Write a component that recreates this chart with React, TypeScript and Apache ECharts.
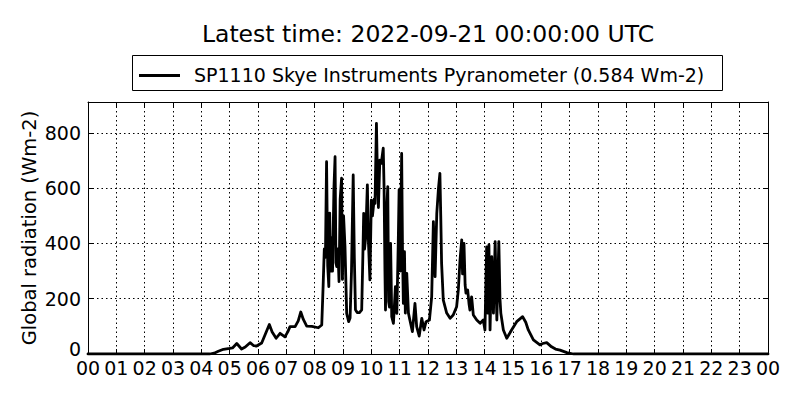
import React, { useEffect, useRef } from "react";
import * as echarts from "echarts";

const titleText = "Latest time: 2022-09-21 00:00:00 UTC";
const seriesName = "SP1110 Skye Instruments Pyranometer (0.584 Wm-2)";
const yAxisName = "Global radiation (Wm-2)";

const hours = [
  0, 4.3, 4.45, 4.6, 4.78, 5.0, 5.1, 5.25, 5.42, 5.55, 5.72, 5.85, 5.95, 6.13, 6.25, 6.4, 6.5, 6.64, 6.78, 6.95,
  7.05, 7.13, 7.31, 7.42, 7.51, 7.6, 7.72, 7.9, 8.13, 8.25, 8.3, 8.34, 8.38, 8.42, 8.46, 8.5, 8.53, 8.56, 8.6, 8.63,
  8.68, 8.72, 8.75, 8.78, 8.82, 8.86, 8.9, 8.95, 8.98, 9.02, 9.07, 9.13, 9.2, 9.25, 9.3, 9.36, 9.4, 9.44, 9.5, 9.58,
  9.66, 9.7, 9.73, 9.76, 9.8, 9.86, 9.9, 9.95, 10.0, 10.04, 10.1, 10.13, 10.18, 10.22, 10.25, 10.3, 10.35, 10.42, 10.45, 10.48,
  10.5, 10.54, 10.58, 10.61, 10.64, 10.68, 10.72, 10.78, 10.85, 10.9, 10.95, 10.98, 11.02, 11.07, 11.1, 11.13, 11.17, 11.2, 11.25, 11.31,
  11.36, 11.45, 11.54, 11.6, 11.69, 11.78, 11.86, 11.93, 12.05, 12.13, 12.19, 12.25, 12.31, 12.37, 12.42, 12.45, 12.48, 12.54, 12.66, 12.78,
  12.89, 13.01, 13.07, 13.13, 13.19, 13.22, 13.27, 13.31, 13.34, 13.4, 13.45, 13.48, 13.54, 13.6, 13.72, 13.84, 13.95, 14.01, 14.07, 14.11,
  14.15, 14.19, 14.25, 14.31, 14.37, 14.43, 14.5, 14.54, 14.57, 14.66, 14.78, 14.95, 15.13, 15.34, 15.45, 15.54, 15.72, 15.95, 16.05, 16.19,
  16.36, 16.5, 16.66, 16.9, 17.13, 24,
];

const radiation = [
  0, 0, 3, 10, 17, 20, 22, 38, 18, 25, 41, 30, 29, 40, 70, 107, 80, 57, 75, 62,
  80, 99, 99, 120, 152, 125, 101, 100, 95, 105, 250, 380, 350, 696, 320, 244, 510, 300, 420, 300,
  600, 714, 330, 316, 380, 262, 560, 636, 270, 500, 390, 147, 117, 130, 300, 648, 350, 160, 150, 150,
  160, 350, 509, 380, 420, 612, 400, 268, 557, 500, 560, 545, 835, 620, 530, 702, 690, 745, 600, 300,
  159, 520, 606, 190, 170, 400, 135, 111, 244, 147, 400, 594, 300, 726, 380, 183, 370, 148, 292, 148,
  123, 81, 183, 99, 65, 129, 87, 117, 123, 207, 479, 280, 509, 600, 654, 500, 328, 195, 148, 129,
  141, 171, 232, 340, 413, 290, 400, 250, 220, 232, 180, 159, 207, 141, 123, 111, 123, 87, 388, 148,
  395, 87, 352, 148, 407, 123, 407, 200, 148, 87, 57, 87, 117, 135, 115, 87, 51, 33, 38, 41,
  26, 18, 14, 5, 0, 0,
];

const yTicks = [0, 200, 400, 600, 800];
const yMax = 912;
const xMin = 0;
const xMax = 24;

const FONT = "DejaVu Sans";

export default function App() {
  const ref = useRef<HTMLDivElement>(null);

  useEffect(() => {
    if (!ref.current) return;
    const chart = echarts.init(ref.current, null, { renderer: "svg" });
    const grid = { left: 88, top: 102, width: 680, height: 252 };
    const dotted = { color: "#000", width: 1, type: [1.5, 3] as number[] };
    const pad = (v: number) => String(Math.round(v) % 24).padStart(2, "0");

    chart.setOption({
      animation: false,
      backgroundColor: "#fff",
      grid: { ...grid, containLabel: false },
      xAxis: [
        {
          type: "value",
          min: xMin,
          max: xMax,
          interval: 1,
          axisLine: { show: true, onZero: false, lineStyle: { color: "#000", width: 1 } },
          axisTick: { show: true, inside: true, length: 5, lineStyle: { color: "#000" } },
          axisLabel: {
            color: "#000",
            fontFamily: FONT,
            fontSize: 19,
            margin: 4,
            formatter: (v: number) => pad(v),
          },
          splitLine: { show: true, lineStyle: dotted },
        },
        {
          type: "value",
          position: "top",
          min: xMin,
          max: xMax,
          interval: 1,
          axisLine: { show: true, onZero: false, lineStyle: { color: "#000", width: 1 } },
          axisTick: { show: true, inside: true, length: 5, lineStyle: { color: "#000" } },
          axisLabel: { show: false },
          splitLine: { show: false },
        },
      ],
      yAxis: [
        {
          type: "value",
          min: yTicks[0],
          max: yMax,
          interval: yTicks[1] - yTicks[0],
          name: yAxisName,
          nameLocation: "middle",
          nameRotate: 90,
          nameGap: 49,
          nameMoveOverlap: false,
          nameTextStyle: { color: "#000", fontFamily: FONT, fontSize: 19.5 },
          axisLine: { show: true, onZero: false, lineStyle: { color: "#000", width: 1 } },
          axisTick: { show: true, inside: true, length: 5, lineStyle: { color: "#000" } },
          axisLabel: {
            color: "#000",
            fontFamily: FONT,
            fontSize: 19,
            margin: 7,
            showMaxLabel: false,
            formatter: (v: number) => (v === 0 ? "{z|0}" : String(v)),
            rich: { z: { fontFamily: FONT, fontSize: 19, color: "#000", padding: [0, 0, 10, 0] } },
          },
          splitLine: { show: true, lineStyle: dotted },
        },
        {
          type: "value",
          position: "right",
          min: yTicks[0],
          max: yMax,
          interval: yTicks[1] - yTicks[0],
          axisLine: { show: true, onZero: false, lineStyle: { color: "#000", width: 1 } },
          axisTick: { show: true, inside: true, length: 5, lineStyle: { color: "#000" } },
          axisLabel: { show: false },
          splitLine: { show: false },
        },
      ],
      series: [
        {
          name: seriesName,
          type: "line",
          xAxisIndex: 0,
          yAxisIndex: 0,
          data: hours.map((h, i) => [h, radiation[i]]),
          showSymbol: false,
          symbol: "none",
          lineStyle: { color: "#000", width: 2.8, join: "round", cap: "round" },
          clip: true,
          z: 3,
        },
      ],
      graphic: [
        {
          type: "text",
          x: 428,
          y: 34,
          style: {
            text: titleText,
            fontSize: 23.5,
            fontFamily: FONT,
            fill: "#000",
            align: "center",
            verticalAlign: "middle",
          },
        },
        {
          type: "rect",
          shape: { x: 132.5, y: 55.5, width: 590, height: 35 },
          style: { fill: "#fff", stroke: "#000", lineWidth: 1 },
        },
        {
          type: "line",
          shape: { x1: 139, y1: 75.5, x2: 180, y2: 75.5 },
          style: { stroke: "#000", lineWidth: 2.8 },
        },
        {
          type: "text",
          x: 194,
          y: 74.5,
          style: {
            text: seriesName,
            fontSize: 19,
            fontFamily: FONT,
            fill: "#000",
            align: "left",
            verticalAlign: "middle",
          },
        },
      ],
    });

    return () => chart.dispose();
  }, []);

  return (
    <div
      ref={ref}
      style={{ position: "absolute", left: 0, top: 0, width: 800, height: 400, background: "#fff" }}
    />
  );
}
